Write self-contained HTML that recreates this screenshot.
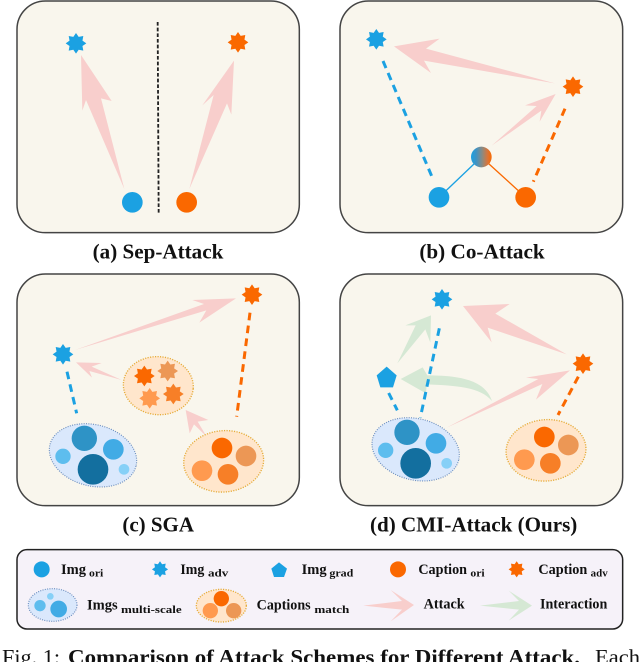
<!DOCTYPE html>
<html><head><meta charset="utf-8"><style>
html,body{margin:0;padding:0;background:#fff;width:640px;height:662px;overflow:hidden}
svg{display:block;filter:blur(.35px)}
text{font-family:"Liberation Serif",serif;font-weight:bold;fill:#111}
.cap{font-size:63px}
.lg{font-size:43px}
.sb{font-size:33px}
</style></head><body>
<svg width="640" height="662" viewBox="0 0 640 662" xmlns="http://www.w3.org/2000/svg">
<defs>
<polygon id="st" points="0,-31 8,-19.4 21.9,-21.9 19.4,-8 31,0 19.4,8 21.9,21.9 8,19.4 0,31 -8,19.4 -21.9,21.9 -19.4,8 -31,0 -19.4,-8 -21.9,-21.9 -8,-19.4"/>
<linearGradient id="mix" x1="0" x2="1" y1="0" y2="0"><stop offset="0" stop-color="#1ba1e2"/><stop offset=".25" stop-color="#3f93c4"/><stop offset=".55" stop-color="#8d8a80"/><stop offset=".8" stop-color="#d9753a"/><stop offset="1" stop-color="#fa6800"/></linearGradient>
<g id="blue">
<ellipse cx="0" cy="0" rx="133" ry="92" transform="rotate(14)" fill="#dae8fc" stroke="#6c8ebf" stroke-width="3.5" stroke-dasharray="3 4"/>
<circle cx="-26" cy="-51" r="38" fill="#2e93c6"/>
<circle cx="61" cy="-18" r="31" fill="#41abe5"/>
<circle cx="-90" cy="3" r="23" fill="#5dbdee"/>
<circle cx="0" cy="42" r="46" fill="#136f9f"/>
<circle cx="93" cy="42" r="16" fill="#86d0f7"/>
</g>
<g id="orng">
<ellipse cx="0" cy="0" rx="120" ry="92" transform="rotate(-5)" fill="#ffe6cc" stroke="#e6ac3a" stroke-width="4" stroke-dasharray="3.5 4"/>
<circle cx="-5" cy="-40" r="31" fill="#fa6800"/>
<circle cx="67" cy="-16" r="31" fill="#ec9755"/>
<circle cx="-65" cy="28" r="31" fill="#ff9a4f"/>
<circle cx="13" cy="39" r="31" fill="#f77f27"/>
</g>
</defs>

<!-- Panel a -->
<g transform="scale(.33333)">
<rect x="51" y="3" width="847" height="695" rx="85" fill="#f9f6ed" stroke="#444" stroke-width="4.5"/>
<polygon points="243,165 335,303 303,295 373,567 258,300 247,332" fill="#f8cecc"/>
<polygon points="702,182 694,344 681,310 568,567 641,285 607,316" fill="#f8cecc"/>
<line x1="473" y1="66" x2="476" y2="640" stroke="#222" stroke-width="5.5" stroke-dasharray="11 6"/>
<use href="#st" x="228" y="130" fill="#1ba1e2"/>
<use href="#st" x="714" y="127" fill="#fa6800"/>
<circle cx="397" cy="607" r="31" fill="#1ba1e2"/>
<circle cx="560" cy="607" r="31" fill="#fa6800"/>
<text class="cap" x="278" y="775" textLength="392" lengthAdjust="spacingAndGlyphs">(a) Sep-Attack</text>
</g>

<!-- Panel b -->
<g transform="translate(320,0) scale(.33333)">
<rect x="60" y="3" width="848" height="695" rx="85" fill="#f9f6ed" stroke="#444" stroke-width="4.5"/>
<polygon points="222,139 359,116 318,146 705,250 312,182 333,219" fill="#f8cecc"/>
<polygon points="707,282 659,365 664,332 515,437 650,318 615,316" fill="#f8cecc"/>
<line x1="189" y1="183" x2="340" y2="540" stroke="#1ba1e2" stroke-width="9" stroke-dasharray="23 16"/>
<line x1="735" y1="326" x2="640" y2="545" stroke="#fa6800" stroke-width="9" stroke-dasharray="23 16"/>
<line x1="357" y1="592" x2="484" y2="471" stroke="#1ba1e2" stroke-width="4"/>
<line x1="617" y1="592" x2="484" y2="471" stroke="#fa6800" stroke-width="4"/>
<use href="#st" x="169" y="118" fill="#1ba1e2"/>
<use href="#st" x="759" y="260" fill="#fa6800"/>
<circle cx="484" cy="471" r="31" fill="url(#mix)"/>
<circle cx="357" cy="592" r="31" fill="#1ba1e2"/>
<circle cx="617" cy="592" r="31" fill="#fa6800"/>
<text class="cap" x="298" y="775" textLength="376" lengthAdjust="spacingAndGlyphs">(b) Co-Attack</text>
</g>

<!-- Panel c -->
<g transform="translate(0,265) scale(.33333)">
<rect x="51" y="27" width="847" height="695" rx="85" fill="#f9f6ed" stroke="#444" stroke-width="4.5"/>
<polygon points="708,100 598,173 619,136 225,255 612,117 577,105" fill="#f8cecc"/>
<polygon points="228,292 305,294 275,305 365,345 268,318 276,338" fill="#f8cecc"/>
<polygon points="557,435 625,465 593,470 620,515 582,478 569,505" fill="#f8cecc"/>
<line x1="201" y1="320" x2="230" y2="445" stroke="#1ba1e2" stroke-width="9" stroke-dasharray="23 16"/>
<line x1="750" y1="143" x2="710" y2="455" stroke="#fa6800" stroke-width="9" stroke-dasharray="23 16"/>
<use href="#st" x="189" y="268" fill="#1ba1e2"/>
<use href="#st" x="756" y="89" fill="#fa6800"/>
<ellipse cx="475" cy="362" rx="105" ry="87" transform="rotate(5 475 362)" fill="#ffe6cc" stroke="#e6ac3a" stroke-width="4" stroke-dasharray="3.5 4"/>
<use href="#st" x="433" y="333" fill="#fa6800"/>
<use href="#st" x="503" y="318" fill="#ec9755"/>
<use href="#st" x="449" y="400" fill="#ff9a4f"/>
<use href="#st" x="520" y="387" fill="#f77f27"/>
<use href="#blue" x="279" y="571"/>
<use href="#orng" x="671" y="589"/>
<text class="cap" x="367" y="800" textLength="215" lengthAdjust="spacingAndGlyphs">(c) SGA</text>
</g>

<!-- Panel d -->
<g transform="translate(320,265) scale(.33333)">
<rect x="60" y="27" width="848" height="695" rx="85" fill="#f9f6ed" stroke="#444" stroke-width="4.5"/>
<polygon points="429,123 569,117 526,146 740,268 503,188 515,232" fill="#f8cecc"/>
<polygon points="750,316 648,404 667,357 380,488 655,342 618,338" fill="#f8cecc"/>
<polygon points="333,151 331,233 316,193 232,295 287,181 256,181" fill="#d5e8d4"/>
<path d="M242,342 L308,307 L322,331 C420,331 495,345 516,408 C480,365 410,362 320,358 L318,385 Z" fill="#d5e8d4"/>
<line x1="358" y1="190" x2="301" y2="458" stroke="#1ba1e2" stroke-width="9" stroke-dasharray="23 16"/>
<line x1="206" y1="384" x2="232" y2="436" stroke="#1ba1e2" stroke-width="9" stroke-dasharray="23 16"/>
<line x1="775" y1="335" x2="714" y2="450" stroke="#fa6800" stroke-width="9" stroke-dasharray="23 16"/>
<use href="#st" x="366" y="103" fill="#1ba1e2"/>
<use href="#st" x="789" y="296" fill="#fa6800"/>
<polygon points="200,305 230,331 219,367 181,367 170,331" fill="#1ba1e2"/>
<use href="#blue" x="287" y="553"/>
<use href="#orng" x="678" y="556"/>
<text class="cap" x="150" y="800" textLength="622" lengthAdjust="spacingAndGlyphs">(d) CMI-Attack (Ours)</text>
</g>

<!-- Legend -->
<g transform="translate(0,540) scale(.33333)">
<rect x="51" y="29" width="1817" height="238" rx="30" fill="#f6f2f9" stroke="#222" stroke-width="4.5"/>
<circle cx="125" cy="88" r="24" fill="#1ba1e2"/>
<text class="lg" x="183" y="102" textLength="75" lengthAdjust="spacingAndGlyphs">Img</text>
<text class="sb" x="267" y="109" textLength="43" lengthAdjust="spacingAndGlyphs">ori</text>
<use href="#st" transform="translate(480,88) scale(.78)" fill="#1ba1e2"/>
<text class="lg" x="541" y="102" textLength="72" lengthAdjust="spacingAndGlyphs">Img</text>
<text class="sb" x="624" y="109" textLength="61" lengthAdjust="spacingAndGlyphs">adv</text>
<polygon points="837,67 861,86 852,111 822,111 814,86" fill="#1ba1e2"/>
<text class="lg" x="905" y="102" textLength="75" lengthAdjust="spacingAndGlyphs">Img</text>
<text class="sb" x="988" y="109" textLength="72" lengthAdjust="spacingAndGlyphs">grad</text>
<ellipse cx="158" cy="195" rx="73" ry="49" fill="#dae8fc" stroke="#6c8ebf" stroke-width="3.5" stroke-dasharray="3 4"/>
<circle cx="151" cy="169" r="10" fill="#86d0f7"/>
<circle cx="120" cy="197" r="17" fill="#5dbdee"/>
<circle cx="176" cy="207" r="25" fill="#41abe5"/>
<text class="lg" x="261" y="208" textLength="92" lengthAdjust="spacingAndGlyphs">Imgs</text>
<text class="sb" x="363" y="219" textLength="182" lengthAdjust="spacingAndGlyphs">multi-scale</text>
<ellipse cx="664" cy="197" rx="75" ry="49" fill="#ffe6cc" stroke="#e6ac3a" stroke-width="4" stroke-dasharray="3.5 4"/>
<circle cx="664" cy="176" r="23" fill="#fa6800"/>
<circle cx="631" cy="212" r="23" fill="#ff9a4f"/>
<circle cx="701" cy="212" r="23" fill="#ec9755"/>
<text class="lg" x="770" y="208" textLength="162" lengthAdjust="spacingAndGlyphs">Captions</text>
<text class="sb" x="943" y="219" textLength="105" lengthAdjust="spacingAndGlyphs">match</text>
</g>
<g transform="translate(320,540) scale(.33333)">
<circle cx="234" cy="88" r="24" fill="#fa6800"/>
<text class="lg" x="295" y="102" textLength="146" lengthAdjust="spacingAndGlyphs">Caption</text>
<text class="sb" x="451" y="109" textLength="43" lengthAdjust="spacingAndGlyphs">ori</text>
<use href="#st" transform="translate(590,88) scale(.78)" fill="#fa6800"/>
<text class="lg" x="655" y="102" textLength="147" lengthAdjust="spacingAndGlyphs">Caption</text>
<text class="sb" x="812" y="109" textLength="51" lengthAdjust="spacingAndGlyphs">adv</text>
<polygon points="130,197 246,183 212,150 282,195 212,244 246,209" fill="#f8cecc"/>
<polygon points="480,197 597,183 566,152 636,197 566,242 597,209" fill="#d5e8d4"/>
<text class="lg" x="311" y="206" textLength="123" lengthAdjust="spacingAndGlyphs">Attack</text>
<text class="lg" x="660" y="206" textLength="202" lengthAdjust="spacingAndGlyphs">Interaction</text>
</g>

<!-- Caption -->
<text x="2" y="664" font-size="21" style="font-weight:normal" textLength="58" lengthAdjust="spacingAndGlyphs">Fig. 1:</text>
<text x="68" y="664" font-size="21" textLength="512" lengthAdjust="spacingAndGlyphs">Comparison of Attack Schemes for Different Attack.</text>
<text x="595" y="664" font-size="21" style="font-weight:normal" textLength="45" lengthAdjust="spacingAndGlyphs">Each</text>
</svg>
</body></html>
